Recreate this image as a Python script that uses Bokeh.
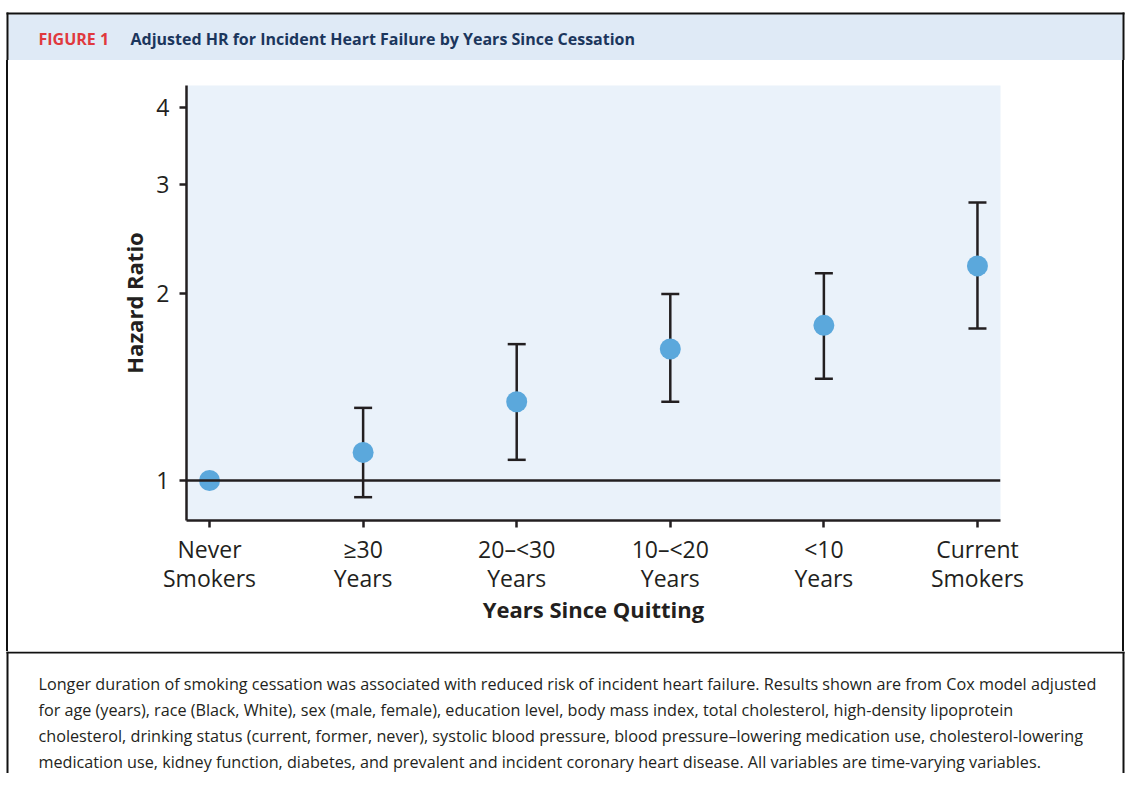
from bokeh.plotting import figure
from bokeh.layouts import column
from bokeh.models import (ColumnDataSource, Range1d, FixedTicker, Span, Whisker,
                          TeeHead, Label)
from bokeh.embed import file_html
from bokeh.resources import INLINE

# ---- data ----
categories = ["Never\nSmokers", "\u226530\nYears", "20\u2013<30\nYears",
              "10\u2013<20\nYears", "<10\nYears", "Current\nSmokers"]
hr = [1.00, 1.11, 1.34, 1.63, 1.78, 2.22]
ci_low = [None, 0.94, 1.08, 1.34, 1.46, 1.76]
ci_high = [None, 1.31, 1.66, 2.00, 2.16, 2.81]
y_ticks = [1, 2, 3, 4]

header_tag = "FIGURE 1"
header_title = "Adjusted HR for Incident Heart Failure by Years Since Cessation"
caption_lines = [
    "Longer duration of smoking cessation was associated with reduced risk of incident heart failure. Results shown are from Cox model adjusted",
    "for age (years), race (Black, White), sex (male, female), education level, body mass index, total cholesterol, high-density lipoprotein",
    "cholesterol, drinking status (current, former, never), systolic blood pressure, blood pressure\u2013lowering medication use, cholesterol-lowering",
    "medication use, kidney function, diabetes, and prevalent and incident coronary heart disease. All variables are time-varying variables.",
]

DARK = "#231f20"
BORDER = "#111111"
DOT = "#5ba8dc"
FONT = "Open Sans"
W = 1125
H_HDR, H_MAIN, H_CAP = 60, 591, 122
BL, BR = 7, 1123  # outer box vertical lines (x)


def blank(h, y0):
    f = figure(width=W, height=h, output_backend="svg", toolbar_location=None,
               x_range=Range1d(0, W), y_range=Range1d(y0 + h, y0),
               x_axis_location=None, y_axis_location=None,
               min_border=0, min_border_left=0, min_border_right=0,
               min_border_top=0, min_border_bottom=0, frame_align=False)
    f.outline_line_color = None
    f.grid.visible = False
    f.background_fill_color = "white"
    f.border_fill_color = "white"
    return f


# ---- header ----
hdr = blank(H_HDR, 0)
hdr.quad(left=[BL + 1], right=[BR - 1], top=[14], bottom=[60],
         fill_color="#dfeaf6", line_color=None)
hdr.segment(x0=[BL, BR, BL - 1], y0=[12, 12, 13], x1=[BL, BR, BR + 1], y1=[60, 60, 13],
            line_color=BORDER, line_width=2)
hdr.add_layout(Label(x=38, y=38, text=header_tag, text_font=FONT, text_font_style="bold",
                     text_font_size="16px", text_color="#e0393e", text_baseline="middle"))
hdr.add_layout(Label(x=130, y=38, text=header_title, text_font=FONT, text_font_style="bold",
                     text_font_size="16px", text_color="#1b365d", text_baseline="middle"))

# ---- main chart ----
FL, FR, FT, FB = 186, 1000, 85 - H_HDR, 520 - H_HDR
xs = list(range(len(categories)))
src = ColumnDataSource(dict(x=xs, hr=hr))
wi = [i for i in xs if ci_low[i] is not None]
wsrc = ColumnDataSource(dict(x=wi, lo=[ci_low[i] for i in wi], hi=[ci_high[i] for i in wi]))

p = figure(width=W, height=H_MAIN, output_backend="svg", toolbar_location=None,
           y_axis_type="log", x_range=Range1d(-0.15, len(categories) - 0.85),
           y_range=Range1d(0.862, 4.34), frame_align=False,
           min_border_left=FL, min_border_right=W - FR,
           min_border_top=FT, min_border_bottom=H_MAIN - FB)
p.background_fill_color = "#eaf2fa"
p.border_fill_color = None
p.outline_line_color = None
p.grid.visible = False
p.styles = {
    "background-color": "white",
    "background-image": f"linear-gradient({BORDER},{BORDER}), linear-gradient({BORDER},{BORDER})",
    "background-size": "2px 100%, 2px 100%",
    "background-position": f"{BL - 1}px 0px, {BR - 1}px 0px",
    "background-repeat": "no-repeat",
}

p.yaxis.ticker = FixedTicker(ticks=y_ticks)
p.yaxis.minor_tick_line_color = None
p.yaxis.axis_label = "Hazard Ratio"
p.xaxis.ticker = FixedTicker(ticks=xs)
p.xaxis.major_label_overrides = {i: c for i, c in zip(xs, categories)}
p.xaxis.axis_label = "Years Since Quitting"
for ax in (p.xaxis, p.yaxis):
    ax.axis_line_color = DARK
    ax.axis_line_width = 2.5
    ax.major_tick_line_color = DARK
    ax.major_tick_line_width = 2.5
    ax.major_tick_in = 0
    ax.major_tick_out = 7
    ax.major_label_text_font = FONT
    ax.major_label_text_font_size = "23px"
    ax.major_label_text_color = DARK
    ax.axis_label_text_font = FONT
    ax.axis_label_text_font_style = "bold"
    ax.axis_label_text_color = DARK
    ax.axis_label_text_font_size = "22px"
p.xaxis.major_label_text_line_height = 0.93
p.xaxis.major_label_standoff = 5
p.xaxis.axis_label_standoff = -3
p.yaxis.major_label_standoff = 10
p.yaxis.axis_label_standoff = 4

p.add_layout(Span(location=1, dimension="width", line_color=DARK, line_width=2.5))
p.add_layout(Whisker(source=wsrc, base="x", lower="lo", upper="hi", dimension="height",
                     line_color=DARK, line_width=2.5,
                     lower_head=TeeHead(size=18, line_color=DARK, line_width=2.5),
                     upper_head=TeeHead(size=18, line_color=DARK, line_width=2.5)))
p.scatter("x", "hr", source=src, size=21, fill_color=DOT, line_color=None)

# ---- caption ----
Y_CAP = H_HDR + H_MAIN
cap = blank(H_CAP, Y_CAP)
cap.segment(x0=[BL - 1, BL, BR], y0=[Y_CAP + 1, Y_CAP, Y_CAP],
            x1=[BR + 1, BL, BR], y1=[Y_CAP + 1, Y_CAP + H_CAP, Y_CAP + H_CAP],
            line_color=BORDER, line_width=2)
for i, line in enumerate(caption_lines):
    cap.add_layout(Label(x=38, y=683 + 26.3 * i, text=line, text_font=FONT,
                         text_font_size="16.2px", text_color=DARK, text_baseline="middle"))

layout = column(hdr, p, cap, spacing=0)
open("out.html", "w").write(file_html(layout, INLINE))
